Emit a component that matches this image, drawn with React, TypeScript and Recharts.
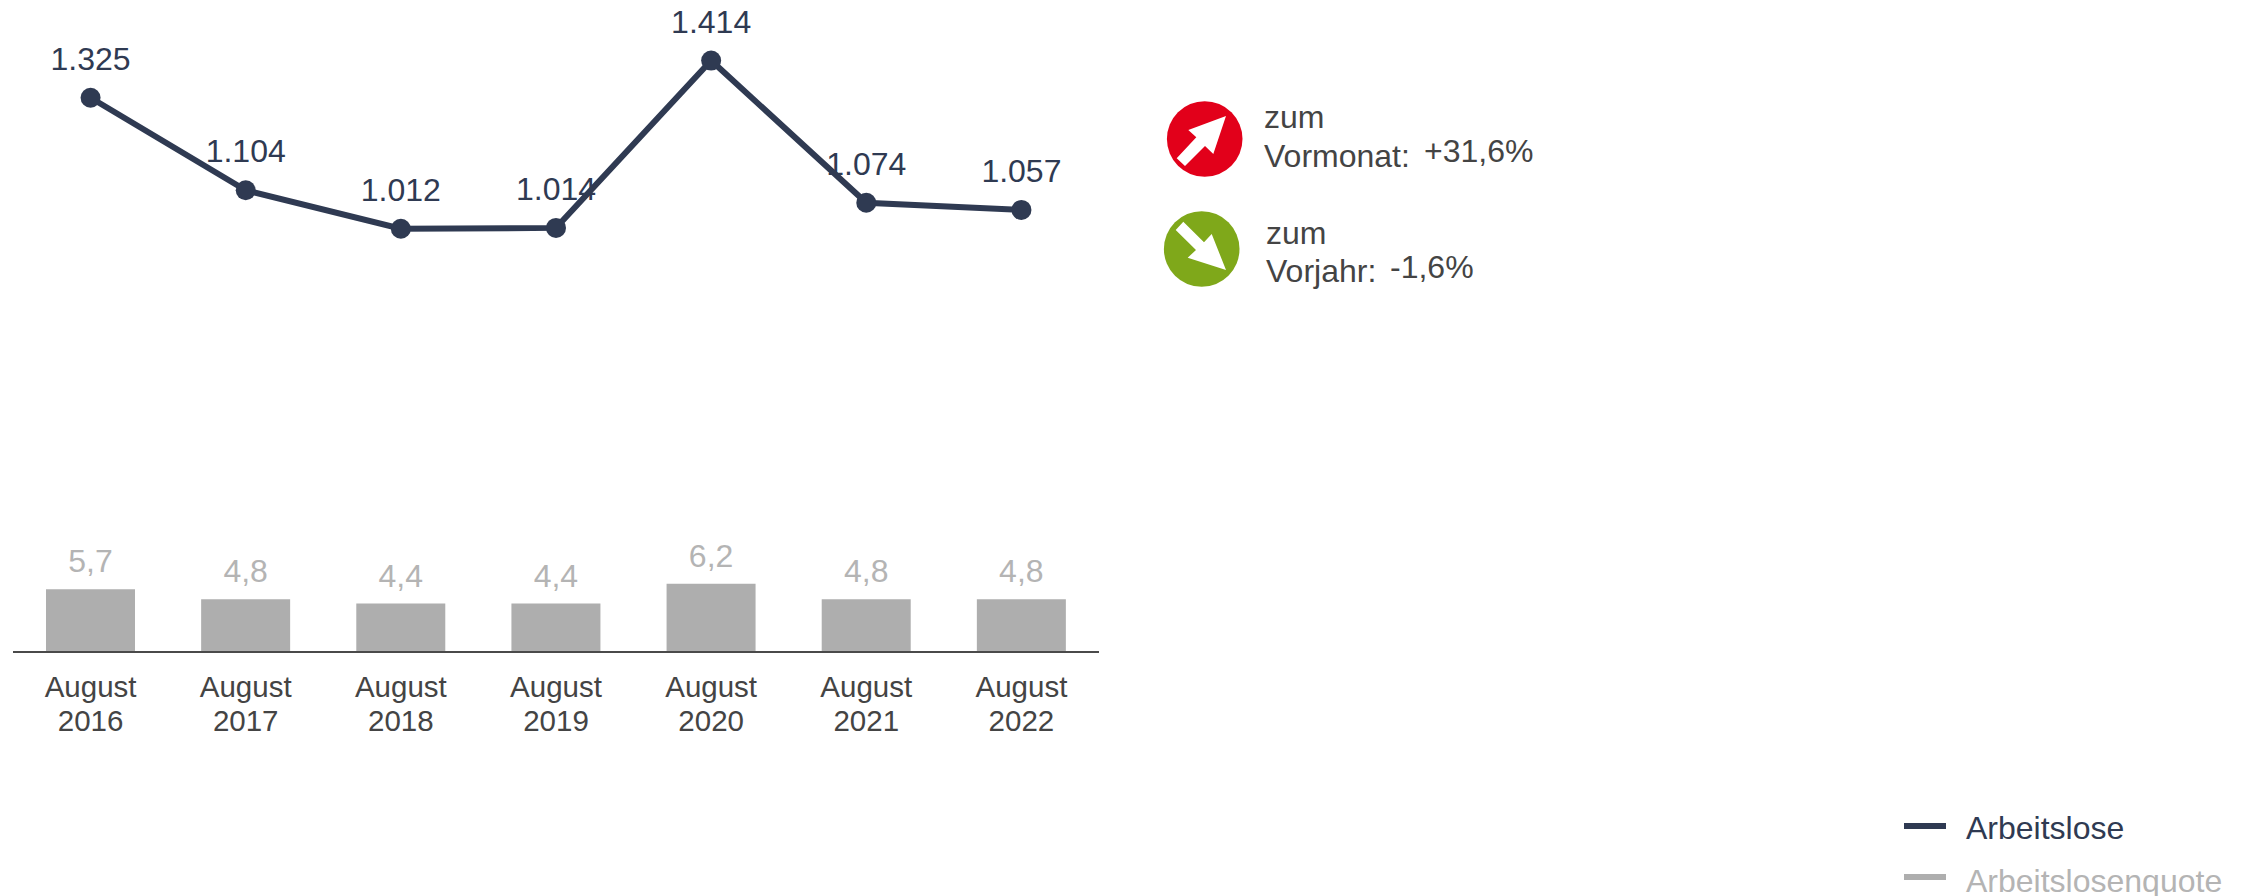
import React from "react";
import { ComposedChart, Line, Bar, XAxis, YAxis, LabelList, Legend } from "recharts";

const categories = ["August 2016", "August 2017", "August 2018", "August 2019", "August 2020", "August 2021", "August 2022"];
const arbeitslose = [1325, 1104, 1012, 1014, 1414, 1074, 1057];
const quote = [5.7, 4.8, 4.4, 4.4, 6.2, 4.8, 4.8];
const lineDomain = [0, 1511];
const barDomain = [0, 57.45];

const NAVY = "#2f3a52";
const BAR = "#aeaeae";
const BAR_TEXT = "#b4b4b4";
const TEXT = "#444444";
const FONT = "'Liberation Sans', Arial, sans-serif";

const data = categories.map((category, i) => ({ category, arbeitslose: arbeitslose[i], quote: quote[i] }));

const fmtThousands = (v: any) => {
  const s = String(v);
  return s.length > 3 ? s.slice(0, -3) + "." + s.slice(-3) : s;
};
const fmtDecimal = (v: any) => Number(v).toFixed(1).replace(".", ",");

const Tick = (props: any) => {
  const { x, payload } = props;
  const [a, b] = String(payload.value).split(" ");
  return (
    <text textAnchor="middle" fontFamily={FONT} fontSize={29.5} fill={TEXT}>
      <tspan x={x} y={697}>{a}</tspan>
      <tspan x={x} y={731}>{b}</tspan>
    </text>
  );
};

const LegendContent = (props: any) => {
  const items = props.payload || [];
  return (
    <svg width={343} height={90} style={{ display: "block", overflow: "visible" }}>
      {items.map((it: any, i: number) => (
        <g key={it.value}>
          <rect x={0} y={i === 0 ? 13 : 64} width={42} height={6} fill={it.color} />
          <text x={62} y={i === 0 ? 29 : 82} fontFamily={FONT} fontSize={32} fill={i === 0 ? NAVY : BAR_TEXT}>
            {it.value}
          </text>
        </g>
      ))}
    </svg>
  );
};

const Kpi = () => (
  <svg width={2247} height={896} style={{ position: "absolute", left: 0, top: 0, pointerEvents: "none" }}>
    <g fontFamily={FONT} fontSize={32} fill={TEXT}>
      <circle cx={1204.7} cy={139} r={37.8} fill="#e2001a" />
      <polygon
        fill="#ffffff"
        points="1226,116 1188.3,130 1196.3,137.3 1176.7,158.3 1185,166 1205,146 1213.3,154"
      />
      <text x={1264} y={128}>zum</text>
      <text x={1264} y={166.7}>Vormonat:</text>
      <text x={1424} y={161.7}>+31,6%</text>
      <circle cx={1201.7} cy={249} r={37.8} fill="#7fa81a" />
      <polygon
        fill="#ffffff"
        points="1226,270 1187.7,257.7 1196,250 1175.7,230 1183.3,221.7 1204,242.3 1211.7,234"
      />
      <text x={1266} y={243.5}>zum</text>
      <text x={1266} y={281.7}>Vorjahr:</text>
      <text x={1390} y={278}>-1,6%</text>
    </g>
  </svg>
);

export default function App() {
  return (
    <div style={{ position: "absolute", left: 0, top: 0, width: 2247, height: 896, overflow: "hidden", background: "#fff" }}>
      <ComposedChart
        width={2247}
        height={896}
        data={data}
        margin={{ top: 20, right: 1148, bottom: 0, left: 13 }}
        barCategoryGap={0}
      >
        <XAxis
          dataKey="category"
          xAxisId="x"
          height={244}
          interval={0}
          tickLine={false}
          axisLine={{ stroke: "#4a4a4a", strokeWidth: 2 }}
          tick={Tick}
        />
        <YAxis yAxisId="line" hide domain={lineDomain} />
        <YAxis yAxisId="bar" hide domain={barDomain} />
        <Bar xAxisId="x" yAxisId="bar" dataKey="quote" name="Arbeitslosenquote" fill={BAR} barSize={89} isAnimationActive={false}>
          <LabelList
            dataKey="quote"
            position="top"
            offset={17}
            formatter={fmtDecimal}
            fill={BAR_TEXT}
            fontSize={32}
            fontFamily={FONT}
          />
        </Bar>
        <Line
          xAxisId="x"
          yAxisId="line"
          dataKey="arbeitslose"
          name="Arbeitslose"
          stroke={NAVY}
          strokeWidth={6}
          dot={{ r: 10, fill: NAVY, stroke: NAVY, strokeWidth: 0 }}
          isAnimationActive={false}
        >
          <LabelList
            dataKey="arbeitslose"
            position="top"
            offset={28}
            formatter={fmtThousands}
            fill={NAVY}
            fontSize={32}
            fontFamily={FONT}
          />
        </Line>
        <Legend
          content={LegendContent}
          layout="horizontal"
          verticalAlign="middle"
          align="center"
          wrapperStyle={{ position: "absolute", left: 1904, top: 810, width: 343, height: 90, bottom: "auto" }}
        />
      </ComposedChart>
      <Kpi />
    </div>
  );
}
